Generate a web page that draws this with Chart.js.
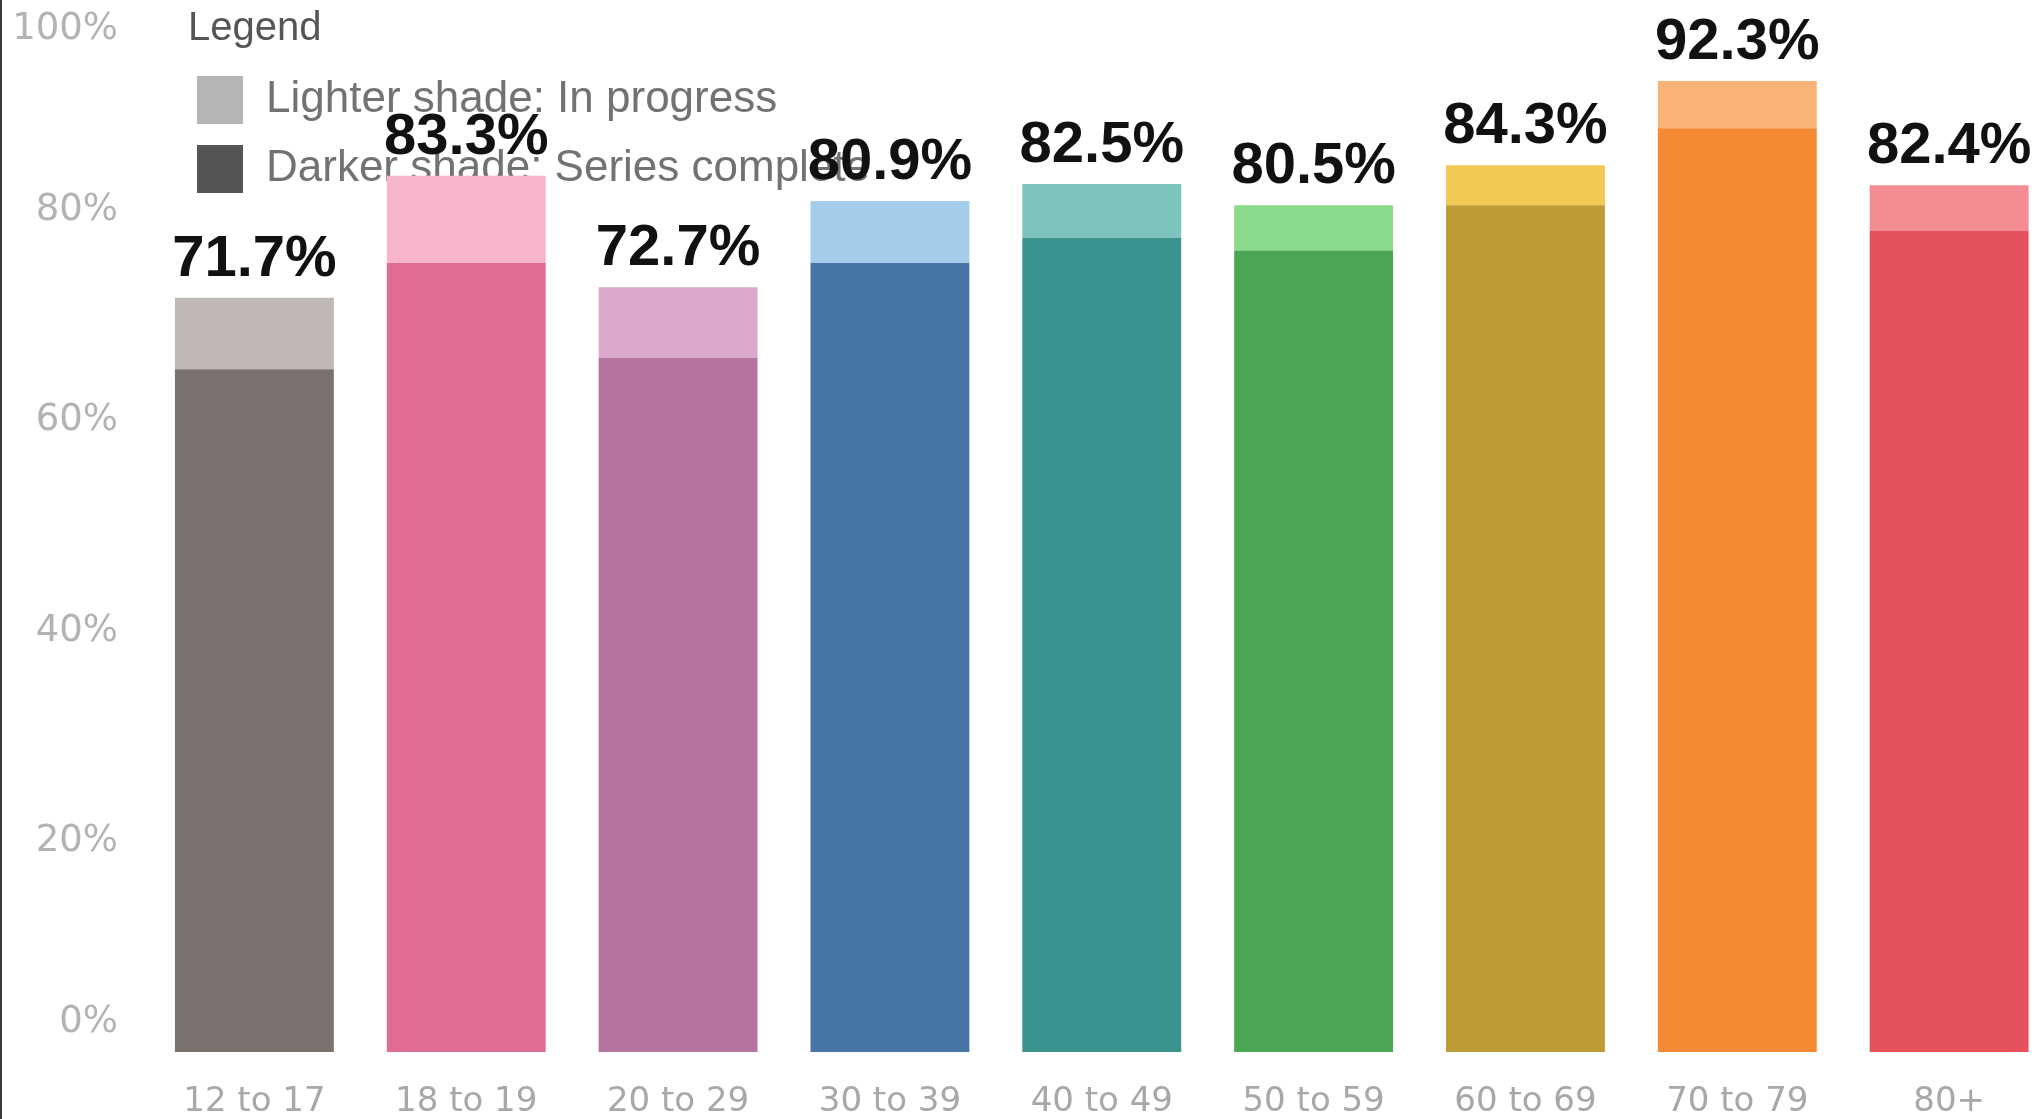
<!DOCTYPE html>
<html>
<head>
<meta charset="utf-8">
<title>Series completion by age group</title>
<script src="https://cdn.jsdelivr.net/npm/chart.js@4.4.1/dist/chart.umd.min.js"></script>
<style>
    html, body { margin: 0; padding: 0; background: #fff; }
    #wrap { position: relative; width: 2036px; height: 1119px; }
    #edge { position: absolute; left: 0; top: 0; width: 2px; height: 100%; background: #3a3a3a; }
</style>
</head>
<body>
<div id="wrap">
    <canvas id="ageChart"></canvas>
    <div id="edge"></div>
</div>
<script>
// data
const ageGroups = ['12 to 17', '18 to 19', '20 to 29', '30 to 39', '40 to 49', '50 to 59', '60 to 69', '70 to 79', '80+'];
const seriesComplete = [64.9, 75.0, 66.0, 75.0, 77.4, 76.2, 80.5, 87.8, 78.1];
const inProgress = [6.8, 8.3, 6.7, 5.9, 5.1, 4.3, 3.8, 4.5, 4.3];
const totalLabels = ['71.7%', '83.3%', '72.7%', '80.9%', '82.5%', '80.5%', '84.3%', '92.3%', '82.4%'];
const yTickLabels = ['0%', '20%', '40%', '60%', '80%', '100%'];

const legendTitle = 'Legend';
const legendLabels = ['Lighter shade: In progress', 'Darker shade: Series complete'];
const legendSwatches = ['#b5b5b5', '#555555'];

// one colour per age group, dark = complete, light = in progress
const darkColors = ['#7b7270', '#e06c93', '#b5749f', '#4775a5', '#3a948d', '#4aa652', '#bd9c36', '#f48a33', '#e5525c'];
const lightColors = ['#bfb8b4', '#f9b5cc', '#dca8cb', '#a3cdea', '#7cc4bd', '#8bd98a', '#f0ca55', '#f9b377', '#f48c94'];

// ✅ totals written above each stack
const totalsPlugin = {
    id: 'totals',
    afterDatasetsDraw(chart) {
        const ctx = chart.ctx;
        const meta = chart.getDatasetMeta(1);
        ctx.save();
        ctx.font = 'bold 58px "Liberation Sans", Arial, sans-serif';
        ctx.fillStyle = '#111';
        ctx.textAlign = 'center';
        ctx.textBaseline = 'alphabetic';
        meta.data.forEach((bar, i) => {
            ctx.fillText(totalLabels[i], bar.x, bar.y - 22);
        });
        ctx.restore();
    }
};

// ✅ legend box in the top-left corner, under the bars
const shadeLegend = {
    id: 'shadeLegend',
    beforeDatasetsDraw(chart) {
        const ctx = chart.ctx;
        ctx.save();
        ctx.textAlign = 'left';
        ctx.textBaseline = 'middle';
        ctx.font = '40px "Liberation Sans", Arial, sans-serif';
        ctx.fillStyle = '#555';
        ctx.fillText(legendTitle, 188, 29);
        ctx.font = '44px "Liberation Sans", Arial, sans-serif';
        legendLabels.forEach((txt, i) => {
            const cy = 100 + i * 69;
            ctx.fillStyle = legendSwatches[i];
            ctx.fillRect(197, cy - 24, 46, 48);
            ctx.fillStyle = '#727272';
            ctx.fillText(txt, 266, cy);
        });
        ctx.restore();
    }
};

const ctx = document.getElementById('ageChart').getContext('2d');
new Chart(ctx, {
    type: 'bar',
    data: {
        datasets: [{
            label: 'Series complete',
            data: seriesComplete.map((v, i) => ({ x: i, y: v })),
            backgroundColor: darkColors,
            borderWidth: 0
        }, {
            label: 'In progress',
            data: inProgress.map((v, i) => ({ x: i, y: v })),
            backgroundColor: lightColors,
            borderWidth: 0
        }]
    },
    options: {
        responsive: true,
        maintainAspectRatio: false,
        animation: false,
        events: [],
        layout: { padding: 0 },
        datasets: {
            bar: { categoryPercentage: 1, barPercentage: 0.75 }
        },
        plugins: {
            legend: { display: false },
            tooltip: { enabled: false }
        },
        scales: {
            x: {
                type: 'linear',
                stacked: true,
                offset: false,
                min: -0.54,
                max: 8.41,
                grid: { display: false },
                border: { display: false },
                afterBuildTicks(scale) {
                    // one tick per age group
                    scale.ticks = ageGroups.map((_, i) => ({ value: i }));
                },
                ticks: {
                    autoSkip: false,
                    maxRotation: 0,
                    padding: 22,
                    color: '#a8a8a8',
                    font: { family: '"DejaVu Sans", sans-serif', size: 34 },
                    callback: (v) => ageGroups[v]
                },
                afterFit(scale) {
                    scale.height = 67;
                    scale.paddingLeft = 0;
                    scale.paddingRight = 0;
                }
            },
            y: {
                stacked: true,
                min: 0,
                max: 100,
                grid: { display: false },
                border: { display: false },
                ticks: {
                    stepSize: 20,
                    padding: 14,
                    color: '#b3b3b3',
                    font: { family: '"DejaVu Sans", sans-serif', size: 37, lineHeight: 1.6 },
                    callback: (v) => {
                        const label = yTickLabels[Math.round(v / 20)];
                        // end labels sit inside the plot, like the original
                        if (v === 100) return ['', label];
                        if (v === 0) return [label, ''];
                        return label;
                    }
                },
                afterFit(scale) {
                    scale.width = 140;
                    scale.paddingTop = 0;
                    scale.paddingBottom = 0;
                }
            }
        }
    },
    plugins: [shadeLegend, totalsPlugin]
});
</script>
</body>
</html>
